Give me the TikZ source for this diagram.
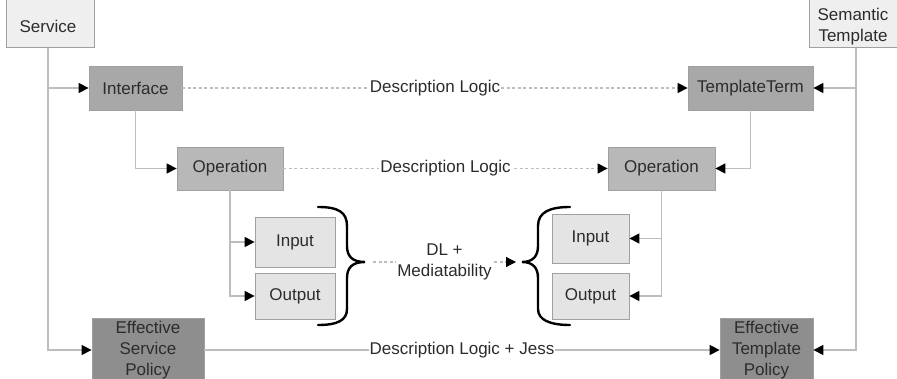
\documentclass[tikz,border=0pt]{standalone}
\usepackage{fontspec}
\setmainfont{Liberation Sans}
\usetikzlibrary{arrows.meta}

\definecolor{txtgrey}{HTML}{2C2C2C}
\definecolor{edgegrey}{HTML}{A0A0A0}
\definecolor{linkgrey}{HTML}{BDBDBD}
\definecolor{palefill}{HTML}{EFEFEF}
\definecolor{lightfill}{HTML}{E4E4E4}
\definecolor{midfill}{HTML}{B8B8B8}
\definecolor{darkfill}{HTML}{A8A8A8}
\definecolor{deepfill}{HTML}{8E8E8E}

\tikzset{
  box/.style={draw=edgegrey, line width=0.8pt, inner sep=2pt, align=center,
    text=txtgrey, font=\fontsize{17}{21}\selectfont},
  palebox/.style={box, fill=palefill},
  iobox/.style={box, fill=lightfill},
  opbox/.style={box, fill=midfill},
  topbox/.style={box, fill=darkfill},
  polbox/.style={box, fill=deepfill},
  txt/.style={align=center, text=txtgrey, font=\fontsize{17}{21}\selectfont},
  lbl/.style={txt, fill=white, inner sep=1pt},
  tip/.style={-{Triangle[length=10pt,width=10pt,black]}},
  link/.style={draw=linkgrey, line width=1.3pt},
  arr/.style={link, tip},
  dl/.style={draw=linkgrey, line width=1.2pt, dash pattern=on 3pt off 2.5pt, tip},
  bracepath/.style={draw=black, line width=2.4pt, line cap=round}
}

\begin{document}
\begin{tikzpicture}[x=1pt, y=-1pt]
  \useasboundingbox (0,0) rectangle (897,379);
  \clip (0,0) rectangle (897,379);

  % top-level entries, partly outside the frame
  \node[palebox, minimum width=88pt, minimum height=60pt, anchor=south east] (svc) at (95,48) {};
  \node[txt] (svclabel) at (48,26) {Service};
  \node[palebox, minimum width=92pt, minimum height=60pt, anchor=south west] (st) at (809,48) {};
  \node[txt] (stlabel) at (853,26.5) {Semantic\\Template};
  \coordinate (svcbot) at (48,48);
  \coordinate (stbot) at (856,48);

  % interface level
  \node[topbox, minimum width=93pt, minimum height=44pt] (if) at (135.5,88) {Interface};
  \node[topbox, minimum width=125pt, minimum height=44pt] (tt) at (750.5,88) {TemplateTerm};

  % operation level
  \node[opbox, minimum width=106pt, minimum height=43pt] (opl) at (230,168.5) {Operation};
  \node[opbox, minimum width=107pt, minimum height=43pt] (opr) at (661.5,168.5) {Operation};

  % inputs and outputs
  \node[iobox, minimum width=80pt, minimum height=50pt] (inl) at (295,242) {Input};
  \node[iobox, minimum width=80pt, minimum height=46pt] (outl) at (295,296) {Output};
  \node[iobox, minimum width=77pt, minimum height=49pt] (inr) at (590.5,238.5) {Input};
  \node[iobox, minimum width=77pt, minimum height=46pt] (outr) at (590.5,296) {Output};

  % policies
  \node[polbox, minimum width=112pt, minimum height=64pt] (esp) at (148,350) {Effective\\Service\\Policy};
  \node[polbox, minimum width=93pt, minimum height=64pt] (etp) at (766.5,350) {Effective\\Template\\Policy};

  % hierarchy on the service side
  \draw[arr] (svcbot) |- (if.west);
  \draw[arr] (svcbot) |- (esp.west);
  \draw[arr] (if.south) |- (opl.west);
  \draw[arr] (opl.south) |- (inl.west);
  \draw[arr] (opl.south) |- (outl.west);

  % hierarchy on the template side
  \draw[arr] (stbot) |- (tt.east);
  \draw[arr] (stbot) |- (etp.east);
  \draw[arr] (tt.south) |- (opr.east);
  \draw[arr] (opr.south) |- (inr.east);
  \draw[arr] (opr.south) |- (outr.east);

  % matching relations
  \draw[dl] (if.east) -- node[lbl] (dl1) {Description Logic} (tt.west);
  \draw[dl] (opl.east) -- node[lbl] (dl2) {Description Logic} (opr.west);
  \draw[arr] (esp.east) -- node[lbl] (dl3) {Description Logic + Jess} (etp.west);

  % braces grouping inputs and outputs
  \coordinate (lbt) at (365,262);
  \coordinate (rbt) at (522,262);
  \draw[bracepath] (318,207) .. controls (338,207) and (347,212) .. (347,226)
    -- (347,246) .. controls (347,256) and (352,262) .. (lbt)
    .. controls (352,262) and (347,268) .. (347,278)
    -- (347,309) .. controls (347,320) and (338,325) .. (318,325);
  \draw[bracepath] (570,207) .. controls (550,207) and (538,212) .. (538,226)
    -- (538,246) .. controls (538,256) and (533,262) .. (rbt)
    .. controls (533,262) and (538,268) .. (538,278)
    -- (538,309) .. controls (538,320) and (550,325) .. (570,325);

  \coordinate (mstart) at (373,262);
  \coordinate (mend) at (516,262);
  \draw[dl] (mstart) -- node[lbl, pos=0.5] (dlm) {DL +\\Mediatability} (mend);
\end{tikzpicture}
\end{document}
